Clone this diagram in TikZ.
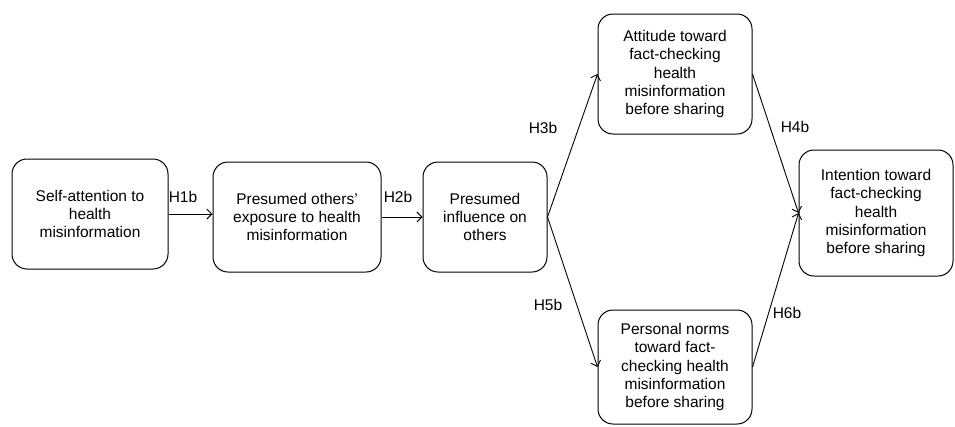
\documentclass[tikz,border=0pt]{standalone}
\usepackage{fontspec}
\setmainfont{Liberation Sans}
\usetikzlibrary{arrows.meta}

\tikzset{
  stage/.style={draw, line width=1pt, rounded corners=15pt, align=center,
    font=\fontsize{15.5}{18.3}\selectfont, inner sep=2pt},
  hyp/.style={font=\fontsize{15.5}{18.3}\selectfont, inner sep=1pt},
  link/.style={line width=0.9pt, ->, >={Straight Barb[length=5pt,width=10pt]}}
}

\begin{document}
\begin{tikzpicture}[x=1pt,y=-1pt]
            \useasboundingbox (0,0) rectangle (955,426);

            % boxes
            \node[stage, minimum width=156pt, minimum height=110pt] (self) at (90,214)
                {Self-attention to\\health\\misinformation};
            \node[stage, minimum width=168pt, minimum height=110pt] (exposure) at (297,217)
                {Presumed others’\\exposure to health\\misinformation};
            \node[stage, minimum width=124pt, minimum height=110pt] (influence) at (485,217)
                {Presumed\\influence on\\others};
            \node[stage, minimum width=154pt, minimum height=120pt] (attitude) at (675,74)
                {Attitude toward\\fact-checking\\health\\misinformation\\before sharing};
            \node[stage, minimum width=154pt, minimum height=114pt] (norms) at (675,367)
                {Personal norms\\toward fact-\\checking health\\misinformation\\before sharing};
            \node[stage, minimum width=154pt, minimum height=126pt] (intention) at (876,213)
                {Intention toward\\fact-checking\\health\\misinformation\\before sharing};

            % paths
            \draw[link] (self.east) -- (self.east -| exposure.west);
            \draw[link] (exposure.east |- influence.west) -- (influence.west);
            \draw[link] (influence.east) -- (attitude.west);
            \draw[link] (influence.east) -- (norms.west);
            \draw[link] (attitude.east) -- (intention.west);
            \draw[link] (norms.east) -- (intention.west);

            % hypotheses
            \node[hyp] (h1b) at (183,197) {H1b};
            \node[hyp] (h2b) at (398,197) {H2b};
            \node[hyp] (h3b) at (543,128) {H3b};
            \node[hyp] (h5b) at (548,305) {H5b};
            \node[hyp] (h4b) at (795,127) {H4b};
            \node[hyp] (h6b) at (787,313) {H6b};
\end{tikzpicture}
\end{document}
